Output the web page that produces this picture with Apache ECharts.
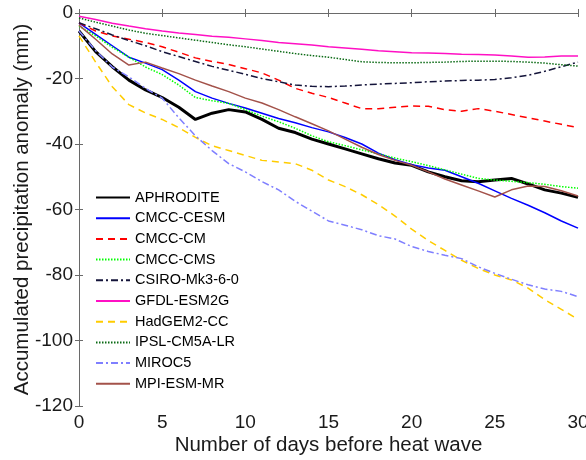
<!DOCTYPE html>
<html><head><meta charset="utf-8">
<script src="https://cdn.jsdelivr.net/npm/echarts@6/dist/echarts.min.js"></script>
<style>html,body{margin:0;padding:0;background:#fff}#c{width:586px;height:460px}</style>
</head><body><div id="c"></div>
<script>
var days = [0,1,2,3,4,5,6,7,8,9,10,11,12,13,14,15,16,17,18,19,20,21,22,23,24,25,26,27,28,29,30];
var xTicks = [0,5,10,15,20,25,30];
var yTicks = [0,-20,-40,-60,-80,-100,-120];
var names = ["APHRODITE","CMCC-CESM","CMCC-CM","CMCC-CMS","CSIRO-Mk3-6-0","GFDL-ESM2G","HadGEM2-CC","IPSL-CM5A-LR","MIROC5","MPI-ESM-MR"];
var aphrodite = [-5.5,-11.8,-16.4,-20.5,-23.5,-25.8,-28.8,-32.5,-30.6,-29.5,-30.2,-32.5,-35.2,-36.5,-38.5,-40,-41.5,-43,-44.5,-45.8,-46.5,-48.5,-50,-51.2,-51.5,-51,-50.5,-52.2,-54,-55,-56.3];
var cmccCesm = [-3,-6.5,-10,-13.5,-15.3,-17.3,-20.5,-24,-26,-27.6,-29,-30.6,-32.2,-33.5,-35,-36.3,-38,-40,-42.8,-44.8,-46.3,-47.3,-48,-50,-52,-54.3,-56.6,-58.7,-61,-63.5,-65.7];
var cmccCm = [-3,-5.5,-7,-8,-9,-10.3,-12,-13.7,-14.8,-15.7,-17,-18.3,-20.5,-23,-24.5,-25.8,-27.5,-29.2,-29.2,-28.8,-28.4,-28.5,-29.5,-30,-29.2,-30,-31,-32,-33,-34,-35];
var cmccCms = [-4,-7,-10.5,-13.5,-16.5,-18.8,-22,-25.8,-26.8,-27.6,-29.5,-31.5,-33.2,-35.2,-37.5,-39.3,-40.5,-41.8,-43,-44.3,-45.4,-46.6,-47.9,-49.2,-50.5,-51,-51.4,-51.8,-52.3,-53,-53.5];
var csiro = [-3,-4.8,-6.7,-8.4,-10,-11.8,-13.3,-14.8,-16.3,-17.5,-18.7,-20,-21,-22,-22.4,-22.5,-22.3,-22,-21.7,-21.5,-21.3,-21,-20.8,-20.6,-20.5,-20.3,-19.8,-19,-17.8,-16.4,-15];
var gfdl = [-1,-2,-3.1,-4,-4.8,-5.5,-6.1,-6.6,-7.1,-7.4,-7.9,-8.4,-9,-9.4,-9.8,-10.3,-10.7,-11.1,-11.5,-11.8,-12.1,-12.2,-12.4,-12.6,-12.7,-12.8,-13.1,-13.5,-13.4,-13.1,-13.1];
var hadgem = [-7,-15,-22.5,-28,-30.5,-32.5,-35,-38,-40.5,-42,-43.5,-45,-45.5,-46,-48,-51,-53,-55.5,-58.5,-62,-66,-69.5,-72.5,-75.5,-78,-80,-81.5,-84,-87.5,-90.5,-93.5];
var ipsl = [-1.5,-2.8,-4,-5.2,-6.2,-6.9,-7.6,-8.3,-9,-9.7,-10.3,-11,-11.7,-12.4,-13,-13.5,-14.2,-14.9,-15.1,-15.2,-15.2,-15.1,-15,-14.8,-14.7,-14.7,-14.8,-15,-15.3,-15.8,-16.2];
var miroc = [-5.5,-11.5,-16.5,-19.5,-23,-26,-32,-37.5,-42,-46,-48.5,-51.5,-54,-57.5,-60.5,-63.5,-64.8,-66.2,-68,-69,-71.3,-72.8,-74,-75,-77.5,-79.5,-81.3,-83,-84.3,-85,-86.6];
var mpi = [-3.7,-8,-12.5,-15.9,-15,-16.8,-18.5,-20.5,-22.3,-24,-26,-27.5,-29.5,-31.7,-33.8,-36,-38.5,-41,-43.2,-45,-46.5,-48.5,-50.7,-52.5,-54.3,-56.2,-54,-52.8,-53,-54.3,-55.9];

var values = [aphrodite,cmccCesm,cmccCm,cmccCms,csiro,gfdl,hadgem,ipsl,miroc,mpi];
var styles = [
  {color:'#000000', width:3, type:'solid'},
  {color:'#0000ff', width:1.5, type:'solid'},
  {color:'#ff0000', width:1.5, type:[7,5]},
  {color:'#00ff00', width:1.5, type:[1.5,1.5]},
  {color:'#14143a', width:1.5, type:[7,3,2,3]},
  {color:'#ff10c4', width:1.5, type:'solid'},
  {color:'#ffcc00', width:1.5, type:[7,5]},
  {color:'#0a6a14', width:1.5, type:[1.5,1.5]},
  {color:'#7f7fff', width:1.5, type:[7,3,2,3]},
  {color:'#a3524a', width:1.5, type:'solid'}
];
var FONT = 'Liberation Sans, Arial, sans-serif';
var series = names.map(function(n,i){
  return {
    name:n, type:'line', xAxisIndex:0, yAxisIndex:0,
    data: days.map(function(d,j){return [d, values[i][j]];}),
    showSymbol:false, symbol:'none', smooth:false,
    lineStyle:{color:styles[i].color, width:styles[i].width, type:styles[i].type},
    itemStyle:{color:styles[i].color},
    z: 2 + i
  };
});
var axisCol = '#6a6a6a';
var chart = echarts.init(document.getElementById('c'), null, {renderer:'canvas'});
chart.setOption({
  animation:false,
  backgroundColor:'#ffffff',
  grid:{left:79, right:8, top:13, bottom:54, show:false, containLabel:false, outerBoundsMode:'none'},
  legend:{
    orient:'vertical', left:95, top:190, padding:0,
    itemWidth:34, itemHeight:14, itemGap:5.7,
    itemStyle:{opacity:0, color:'rgba(0,0,0,0)', borderWidth:0},
    textStyle:{fontFamily:FONT, fontSize:14.5, color:'#000', lineHeight:14},
    data:names
  },
  xAxis:[
    {type:'value', min:0, max:30, interval:5, position:'bottom',
     name:'Number of days before heat wave', nameLocation:'middle', nameGap:29, nameMoveOverlap:false,
     nameTextStyle:{fontFamily:FONT, fontSize:20.5, color:'#1a1a1a'},
     axisLine:{show:true, lineStyle:{color:axisCol, width:1}},
     axisTick:{show:true, inside:true, length:4, lineStyle:{color:axisCol}},
     axisLabel:{fontFamily:FONT, fontSize:19, color:'#1a1a1a', margin:7,
       formatter:function(v){return xTicks.indexOf(v)>=0 ? String(v) : '';}},
     splitLine:{show:false}},
    {type:'value', min:0, max:30, interval:5, position:'top',
     axisLine:{show:true, lineStyle:{color:axisCol, width:1}},
     axisTick:{show:true, inside:true, length:4, lineStyle:{color:axisCol}},
     axisLabel:{show:false}, splitLine:{show:false}}
  ],
  yAxis:[
    {type:'value', min:-120, max:0, interval:20, position:'left',
     name:'Accumulated precipitation anomaly (mm)', nameLocation:'middle', nameGap:46, nameMoveOverlap:false,
     nameTextStyle:{fontFamily:FONT, fontSize:20.5, color:'#1a1a1a'},
     axisLine:{show:true, lineStyle:{color:axisCol, width:1}},
     axisTick:{show:true, inside:true, length:4, lineStyle:{color:axisCol}},
     axisLabel:{fontFamily:FONT, fontSize:19, color:'#1a1a1a', margin:6,
       formatter:function(v){return yTicks.indexOf(v)>=0 ? String(v) : '';}},
     splitLine:{show:false}},
    {type:'value', min:-120, max:0, interval:20, position:'right',
     axisLine:{show:true, lineStyle:{color:axisCol, width:1}},
     axisTick:{show:true, inside:true, length:4, lineStyle:{color:axisCol}},
     axisLabel:{show:false}, splitLine:{show:false}}
  ],
  series:series
});
</script></body></html>
